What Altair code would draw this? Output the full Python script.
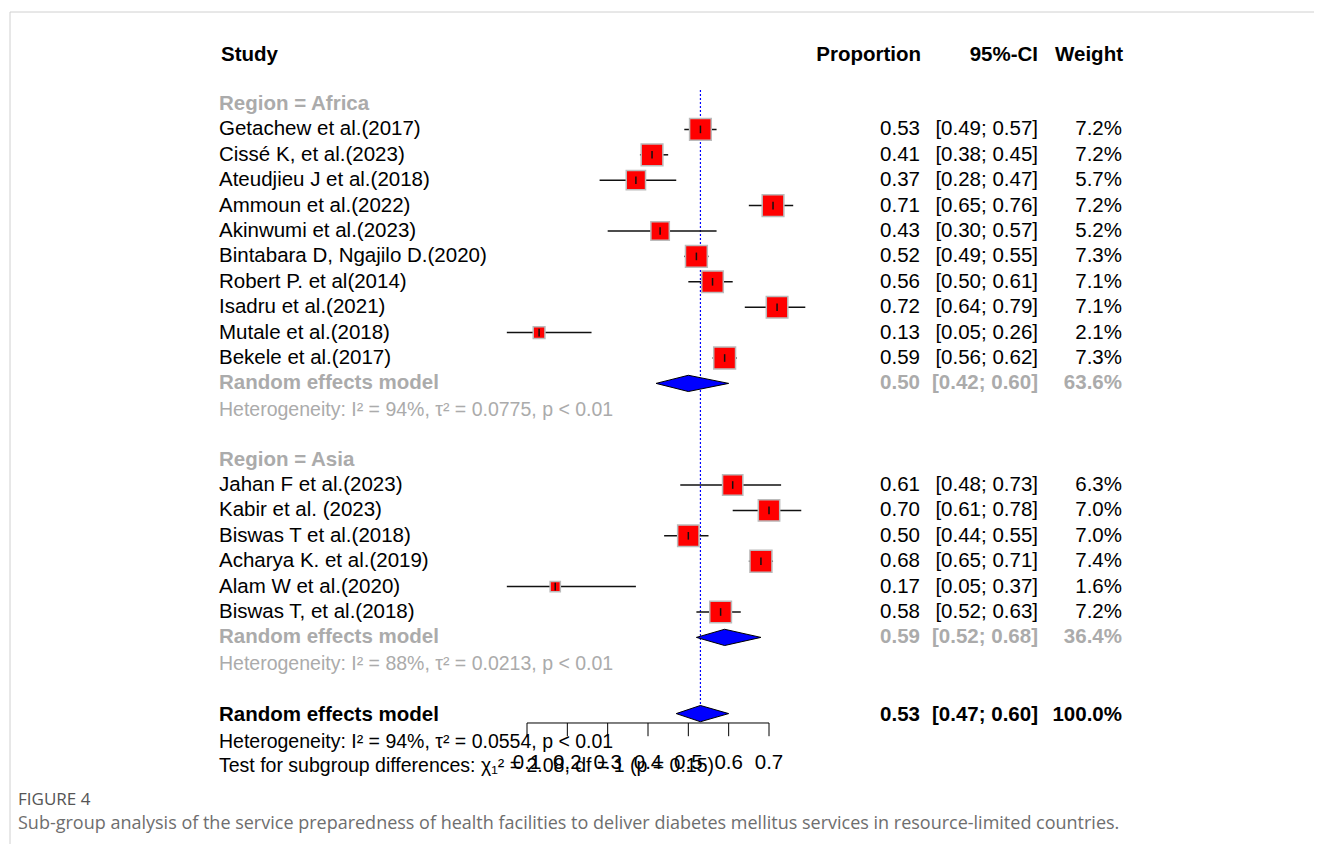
import altair as alt
import pandas as pd

# ---------------- data ----------------
africa_studies = ["Getachew et al.(2017)", "Cissé K, et al.(2023)", "Ateudjieu J et al.(2018)",
                  "Ammoun et al.(2022)", "Akinwumi et al.(2023)", "Bintabara D, Ngajilo D.(2020)",
                  "Robert P. et al(2014)", "Isadru et al.(2021)", "Mutale et al.(2018)",
                  "\u00a0Bekele et al.(2017)"]
africa_prop = [0.53, 0.41, 0.37, 0.71, 0.43, 0.52, 0.56, 0.72, 0.13, 0.59]
africa_lower = [0.49, 0.38, 0.28, 0.65, 0.30, 0.49, 0.50, 0.64, 0.05, 0.56]
africa_upper = [0.57, 0.45, 0.47, 0.76, 0.57, 0.55, 0.61, 0.79, 0.26, 0.62]
africa_weight = [7.2, 7.2, 5.7, 7.2, 5.2, 7.3, 7.1, 7.1, 2.1, 7.3]

asia_studies = ["Jahan F et al.(2023)", "Kabir et al. (2023)", "Biswas T et al.(2018)",
                "\u00a0Acharya K. et al.(2019)", "Alam W et al.(2020)", "Biswas T, et al.(2018)"]
asia_prop = [0.61, 0.70, 0.50, 0.68, 0.17, 0.58]
asia_lower = [0.48, 0.61, 0.44, 0.65, 0.05, 0.52]
asia_upper = [0.73, 0.78, 0.55, 0.71, 0.37, 0.63]
asia_weight = [6.3, 7.0, 7.0, 7.4, 1.6, 7.2]

regions = ["Africa", "Asia"]
pooled_prop = [0.50, 0.59, 0.53]      # Africa, Asia, Overall
pooled_lower = [0.42, 0.52, 0.47]
pooled_upper = [0.60, 0.68, 0.60]
pooled_weight = [63.6, 36.4, 100.0]
heterogeneity = [
    "Heterogeneity: I\u00b2 = 94%, \u03c4\u00b2 = 0.0775, p < 0.01",
    "Heterogeneity: I\u00b2 = 88%, \u03c4\u00b2 = 0.0213, p < 0.01",
    "Heterogeneity: I\u00b2 = 94%, \u03c4\u00b2 = 0.0554, p < 0.01",
]
subgroup_test = "Test for subgroup differences: \u03c7\u2081\u00b2 = 2.08, df = 1 (p = 0.15)"
model_label = "Random effects model"
axis_ticks = [0.1, 0.2, 0.3, 0.4, 0.5, 0.6, 0.7]
column_headers = ["Study", "Proportion", "95%-CI", "Weight"]
caption_label = "FIGURE 4"
caption_text = ("Sub-group analysis of the service preparedness of health facilities to deliver "
                "diabetes mellitus services in resource-limited countries.")

# ---------------- styling ----------------
FONT = "Liberation Sans"
FS = 20.5
GRAY = "#ABABAB"
BLACK = "#000000"
W, H = 1306, 836
ROW_PX = 25.4
ROW0_PX = 96.0           # plot-y of row 0
Y_TOP = -ROW0_PX / ROW_PX
Y_BOT = (H - ROW0_PX) / ROW_PX
DIAMOND_H = 0.32

x_scale = alt.Scale(domain=[0.1, 0.7], range=[519, 761], nice=False, zero=False)
y_scale = alt.Scale(domain=[Y_TOP, Y_BOT], reverse=True, nice=False, zero=False)

# ---------------- build tables ----------------
study_recs, left_recs, right_recs, diamond_recs = [], [], [], []
r = 0
groups = [
    (africa_studies, africa_prop, africa_lower, africa_upper, africa_weight),
    (asia_studies, asia_prop, asia_lower, asia_upper, asia_weight),
]
pooled_rows = []
for gi, (names, ps, los, his, ws) in enumerate(groups):
    left_recs.append(dict(row=r, text=f"Region = {regions[gi]}", color=GRAY, bold=True, size=FS))
    r += 1
    for n, p, lo, hi, w in zip(names, ps, los, his, ws):
        study_recs.append(dict(row=r, prop=p, lower=lo, upper=hi, weight=w,
                               tlo=r - 0.15, thi=r + 0.15))
        left_recs.append(dict(row=r, text=n, color=BLACK, bold=False, size=FS))
        right_recs.append(dict(row=r, est=f"{p:.2f}", ci=f"[{lo:.2f}; {hi:.2f}]",
                               w=f"{w:.1f}%", color=BLACK, bold=False))
        r += 1
    pooled_rows.append(r)
    left_recs.append(dict(row=r, text=model_label, color=GRAY, bold=True, size=FS))
    r += 1
    left_recs.append(dict(row=r + 0.05, text=heterogeneity[gi], color=GRAY, bold=False, size=19.5))
    r += 2

# overall
pooled_rows.append(r)
left_recs.append(dict(row=r + 0.05, text=model_label, color=BLACK, bold=True, size=FS))
left_recs.append(dict(row=r + 1.1, text=heterogeneity[2], color=BLACK, bold=False, size=19.5))
left_recs.append(dict(row=r + 2.05, text=subgroup_test, color=BLACK, bold=False, size=19.5))
overall_row = r

for k, pr in enumerate(pooled_rows):
    col = GRAY if k < 2 else BLACK
    right_recs.append(dict(row=pr + (0.05 if k == 2 else 0), est=f"{pooled_prop[k]:.2f}",
                           ci=f"[{pooled_lower[k]:.2f}; {pooled_upper[k]:.2f}]",
                           w=f"{pooled_weight[k]:.1f}%", color=col, bold=True))
    diamond_recs += [
        dict(id=k, x=pooled_lower[k], y=pr, y2=pr),
        dict(id=k, x=pooled_prop[k], y=pr - DIAMOND_H, y2=pr + DIAMOND_H),
        dict(id=k, x=pooled_upper[k], y=pr, y2=pr),
    ]

studies = pd.DataFrame(study_recs)
left = pd.DataFrame(left_recs)
right = pd.DataFrame(right_recs)
diamonds = pd.DataFrame(diamond_recs)
HEADER_ROW = -1.93
headers = pd.DataFrame({"row": [HEADER_ROW] * 4, "text": column_headers})
ref = pd.DataFrame({"x": [pooled_prop[2]], "y": [-0.55], "y2": [overall_row - DIAMOND_H]})
AXIS_ROW = 24.37
ticks = pd.DataFrame({"x": axis_ticks, "y": [AXIS_ROW] * len(axis_ticks),
                      "y2": [AXIS_ROW + 0.52] * len(axis_ticks),
                      "ly": [25.94] * len(axis_ticks),
                      "label": [f"{t:.1f}" for t in axis_ticks]})
axis_line = pd.DataFrame({"x": [axis_ticks[0]], "x2": [axis_ticks[-1]], "y": [AXIS_ROW]})

X = lambda f: alt.X(f, type="quantitative", scale=x_scale, axis=None)
Y = lambda f: alt.Y(f, type="quantitative", scale=y_scale, axis=None)

# ---------------- layers ----------------
ref_line = alt.Chart(ref).mark_rule(color="#0000FF", strokeDash=[2, 2], strokeWidth=1.2).encode(
    x=X("x"), y=Y("y"), y2="y2")

squares = alt.Chart(studies).mark_square(color="#FF0000", opacity=1, stroke="#BBBBBB",
                                         strokeWidth=1.5, filled=True).encode(
    x=X("prop"), y=Y("row"),
    size=alt.Size("weight:Q", scale=alt.Scale(domain=[0, 7.2], range=[0, 470]), legend=None))

ci = alt.Chart(studies).mark_rule(color="#111111", strokeWidth=1.5).encode(
    x=X("lower"), x2="upper", y=Y("row"))

est_tick = alt.Chart(studies).mark_rule(color="#111111", strokeWidth=1.5).encode(
    x=X("prop"), y=Y("tlo"), y2="thi")

diamond = alt.Chart(diamonds).mark_area(fill="#0000FF", stroke="#000000", strokeWidth=1,
                                        opacity=1).encode(
    x=X("x"), y=Y("y"), y2="y2", detail="id:N")

ax_line = alt.Chart(axis_line).mark_rule(color="#000000", strokeWidth=1).encode(
    x=X("x"), x2="x2", y=Y("y"))
ax_ticks = alt.Chart(ticks).mark_rule(color="#000000", strokeWidth=1).encode(
    x=X("x"), y=Y("y"), y2="y2")
ax_labels = alt.Chart(ticks).mark_text(font=FONT, fontSize=FS, baseline="middle",
                                       align="center", color="#000000").encode(
    x=X("x"), y=Y("ly"), text="label:N")


def text_layer(df, x, align, bold, size, text_field="text", color_field="color"):
    return alt.Chart(df).mark_text(font=FONT, fontSize=size, align=align, baseline="middle",
                                   fontWeight="bold" if bold else "normal").encode(
        x=alt.value(x), y=Y("row"), text=f"{text_field}:N",
        color=alt.Color(f"{color_field}:N", scale=None))


layers = [ref_line, ci, squares, est_tick, diamond, ax_line, ax_ticks, ax_labels]

for (b, s), sub in left.groupby(["bold", "size"]):
    layers.append(text_layer(sub, 211, "left", bool(b), float(s)))
for b, sub in right.groupby("bold"):
    layers.append(text_layer(sub, 912, "right", bool(b), FS, "est"))
    layers.append(text_layer(sub, 1030, "right", bool(b), FS, "ci"))
    layers.append(text_layer(sub, 1114, "right", bool(b), FS, "w"))

hdr = headers.assign(color=BLACK)
layers.append(text_layer(hdr[hdr.text == column_headers[0]], 213, "left", True, FS))
layers.append(text_layer(hdr[hdr.text == column_headers[1]], 913, "right", True, FS))
layers.append(text_layer(hdr[hdr.text == column_headers[2]], 1030, "right", True, FS))
layers.append(text_layer(hdr[hdr.text == column_headers[3]], 1115, "right", True, FS))

one = pd.DataFrame({"a": [0]})
frame_top = alt.Chart(one).mark_rule(color="#D0D0D0", strokeWidth=1).encode(
    x=alt.value(2), x2=alt.value(W), y=alt.value(4))
frame_left = alt.Chart(one).mark_rule(color="#D0D0D0", strokeWidth=1).encode(
    x=alt.value(2), y=alt.value(4), y2=alt.value(H))
cap1 = alt.Chart(pd.DataFrame({"t": [caption_label]})).mark_text(
    font="Open Sans", fontSize=17, align="left", baseline="middle", color="#555555").encode(
    x=alt.value(10), y=alt.value(792), text="t:N")
cap2 = alt.Chart(pd.DataFrame({"t": [caption_text]})).mark_text(
    font="Open Sans", fontSize=18, align="left", baseline="middle", color="#6E6E6E").encode(
    x=alt.value(10), y=alt.value(816), text="t:N")
layers += [frame_top, frame_left, cap1, cap2]

chart = alt.layer(*layers).properties(
    width=W, height=H, padding=0, autosize=alt.AutoSizeParams(type="none")
).configure_view(stroke=None).resolve_scale(color="independent")

chart.save("out.html", embed_options={"renderer": "svg", "actions": False})
